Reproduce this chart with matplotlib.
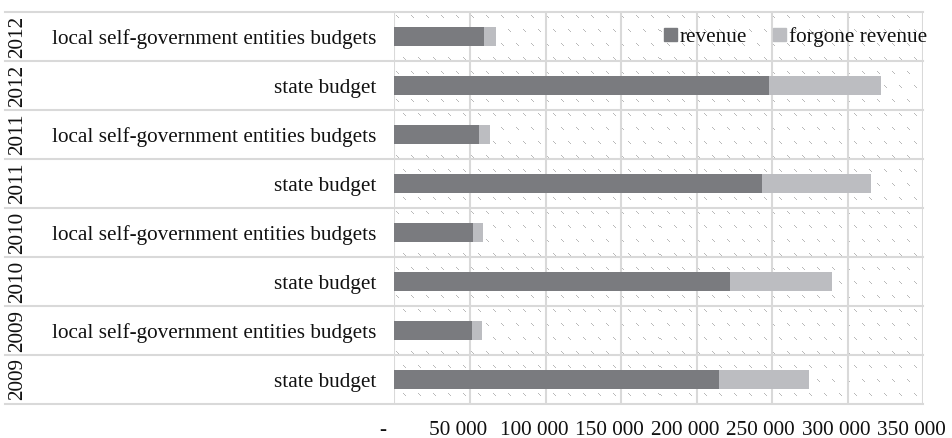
import numpy as np
import matplotlib
matplotlib.use("Agg")
import matplotlib.pyplot as plt
from matplotlib.transforms import blended_transform_factory, ScaledTranslation
from matplotlib.patches import Patch

# ---- data (bottom -> top) ----
years = ["2009", "2009", "2010", "2010", "2011", "2011", "2012", "2012"]
categories = ["state budget", "local self-government entities budgets"] * 4
revenue = [214900, 51300, 222200, 51800, 243400, 56200, 248000, 59300]
forgone = [59600, 6600, 67700, 6600, 72000, 7100, 74200, 7700]
xticks = [0, 50000, 100000, 150000, 200000, 250000, 300000, 350000]
xtick_labels = ["-", "50 000", "100 000", "150 000", "200 000", "250 000", "300 000", "350 000"]
series_names = ["revenue", "forgone revenue"]

DARK = "#7a7b7f"
LIGHT = "#bcbdc1"
GRID = "#d9d9d9"
TXT = "#111111"
FONT = "Liberation Serif"
FS = 15.3

W_PX, H_PX = 953, 438
fig = plt.figure(figsize=(W_PX / 100, H_PX / 100), dpi=100)
plt.rcParams["font.family"] = [FONT, "DejaVu Serif"]

ax_l, ax_r, ax_t, ax_b = 394.5, 923.0, 12.0, 404.0
ax = fig.add_axes([ax_l / W_PX, (H_PX - ax_b) / H_PX, (ax_r - ax_l) / W_PX, (ax_b - ax_t) / H_PX])

n = len(categories)
y = np.arange(n)
ax.set_xlim(0, 350000)
ax.set_ylim(-0.5, n - 0.5)

# background dashed-diagonal texture
Hp, Wp = int(ax_b - ax_t), int(ax_r - ax_l)
pat = np.zeros((Hp, Wp, 4))
for j, y0 in enumerate(range(3, Hp - 3, 14)):
    shift = 7 if j % 2 else 0
    for x0 in range(2 + shift, Wp - 3, 15):
        for k in range(3):
            pat[y0 + k, x0 + k] = (0.68, 0.68, 0.68, 0.85)
ax.imshow(pat, extent=(0, 350000, -0.5, n - 0.5), aspect="auto",
          interpolation="nearest", zorder=0, origin="upper")

# grid
for xv in xticks:
    ax.axvline(xv, color=GRID, lw=1.5, zorder=1)
tr = blended_transform_factory(ax.transAxes, ax.transData)
left_frac = (5 - ax_l) / (ax_r - ax_l)
for k in range(n + 1):
    ax.plot([left_frac, 1], [k - 0.5, k - 0.5], color=GRID, lw=1.5,
            transform=tr, clip_on=False, zorder=1)

# bars
ax.barh(y, revenue, height=0.4, color=DARK, zorder=3)
ax.barh(y, forgone, left=revenue, height=0.4, color=LIGHT, zorder=3)

for s in ax.spines.values():
    s.set_visible(False)

ax.set_yticks(y)
ax.set_yticklabels(categories, fontsize=FS, color=TXT, fontfamily=FONT)
ax.tick_params(axis="y", length=0, pad=13.3)
ax.set_xticks(xticks)
ax.set_xticklabels(xtick_labels, fontsize=FS, color=TXT, fontfamily=FONT)
ax.tick_params(axis="x", length=0, pad=12)
off = ScaledTranslation(-11.5 / 100, 0, fig.dpi_scale_trans)
for lab in ax.get_xticklabels():
    lab.set_transform(lab.get_transform() + off)

# year labels (outer category level)
ytr = blended_transform_factory(fig.transFigure, ax.transData)
for yi, yr in zip(y, years):
    ax.text(18 / W_PX, yi, yr, rotation=90, ha="center", va="center",
            fontsize=FS, color=TXT, fontfamily=FONT, transform=ytr)

handles = [Patch(color=DARK), Patch(color=LIGHT)]
leg = fig.legend(handles, series_names, loc="center right", ncol=2,
                 bbox_to_anchor=(927 / W_PX, 1 - 37 / H_PX), bbox_transform=fig.transFigure,
                 frameon=False, handlelength=0.6, handleheight=0.6,
                 handletextpad=0.15, columnspacing=1.2, borderpad=0, borderaxespad=0,
                 prop={"family": FONT, "size": FS})
for t in leg.get_texts():
    t.set_color(TXT)

fig.savefig("out.png", dpi=100)
